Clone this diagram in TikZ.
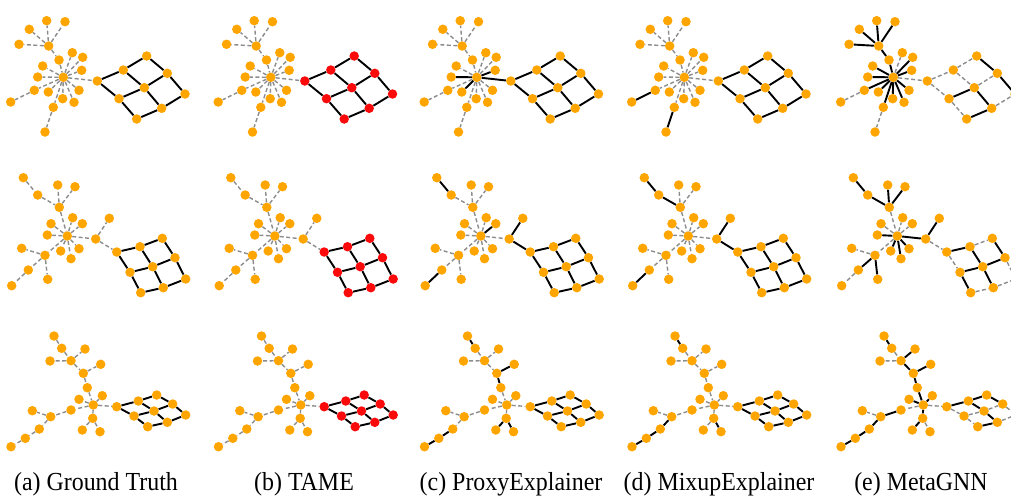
\documentclass[tikz,border=0pt]{standalone}
\usepackage{fontspec}
\setmainfont{Liberation Serif}

\definecolor{vorange}{RGB}{255,165,0}
\definecolor{vred}{RGB}{250,10,10}
\definecolor{egray}{RGB}{140,140,140}

\tikzset{
  vtx/.style={circle, fill=vorange, draw=none, minimum size=9.5pt, inner sep=0pt},
  motif/.style={fill=vred},
  tie/.style={draw=black, line width=1.9pt},
  faint/.style={draw=egray, line width=1.4pt, dash pattern=on 4pt off 2.5pt},
  caption/.style={font=\fontsize{26}{30}\selectfont, anchor=base, inner sep=0pt, xscale=0.92}
}

% one explanation panel: prefix, x offset, tree nodes, grid nodes,
% edges, edges drawn solid, extra style for the grid nodes
\makeatletter
\newcommand\explpanel[7]{%
  \begin{scope}[xshift=#2pt]
    \foreach \n/\x/\y in #3 {\node[vtx] (#1\n) at (\x,\y) {};}
    \foreach \n/\x/\y in #4 {\node[vtx,#7] (#1\n) at (\x,\y) {};}
    \foreach \u/\v in #5 {%
      \edef\pp@tmp{\noexpand\in@{,\u-\v,}{,#6,}}\pp@tmp
      \ifin@\draw[tie] (#1\u) -- (#1\v);\else\draw[faint] (#1\u) -- (#1\v);\fi
    }
  \end{scope}}
\makeatother

% 3x3 grid motif
\def\gridE{g00/g01,g01/g02,g10/g11,g11/g12,g20/g21,g21/g22,g00/g10,g10/g20,g01/g11,g11/g21,g02/g12,g12/g22}
\def\gridS{g00-g01,g01-g02,g10-g11,g11-g12,g20-g21,g21-g22,g00-g10,g10-g20,g01-g11,g11-g21,g02-g12,g12-g22}

% first graph
\def\rowAnodes{C/63.3/77.3,H/48.7/46,h1/46.7/20.7,h2/65/21.7,h3/29.3/29.3,h4/19/44.3,a1/59/60,a2/72.3/52.7,a3/82.7/57.3,a4/81.7/70.3,a5/42.7/66,a6/37.7/77,a7/34.3/90.3,b7/10.7/102,a8/48.3/92,a9/62.7/98.7,a10/74/102.3,a11/79/90.3,a12/53.3/107.3,b12/45/132}
\def\rowAgrid{g00/97.3/81,g01/123.3/70,g02/146.7/56,g10/119/98.7,g11/144.3/87.7,g12/167.3/73.3,g20/136.7/119,g21/161.7/108.3,g22/185/94}
\edef\rowAedges{H/h1,H/h2,H/h3,H/h4,H/a1,a1/C,C/a2,C/a3,C/a4,C/a5,C/a6,C/a7,C/a8,C/a9,C/a10,C/a11,C/a12,a7/b7,a12/b12,C/g00,\gridE}

% second graph
\def\rowBnodes{C/67.3/236,H/59.3/207.3,n1/23.3/177.7,n2/37.7/195,n3/57.7/185,n4/75/186.7,c1/51/223.7,c2/72.7/217.7,c3/82.3/223.7,c4/47.3/235,c5/60.7/251,c6/71/258.7,c7/79/248.7,L/45/255.3,l1/21.7/248.3,l2/47.7/279.3,l3/28.3/270,l4/11.7/285.7,R/95.7/239,r1/109.3/218.3}
\def\rowBgrid{g00/116.7/252,g01/140/246.7,g02/162.3/238.3,g10/130/272.3,g11/152.7/266.7,g12/175/257.7,g20/140.7/292.7,g21/163.3/287.7,g22/185.7/279}
\edef\rowBedges{n1/n2,n2/H,H/n3,H/n4,H/C,C/c1,C/c2,C/c3,C/c4,C/c5,C/c6,C/c7,C/L,L/l1,L/l2,L/l3,l3/l4,C/R,R/r1,R/g00,\gridE}

% third graph
\def\rowCnodes{C/93.3/405,t1/54/336,t2/61.7/348.3,T/71/360.7,t3/85/349,t4/50/361,U/83.3/373.3,u1/100.7/364.3,V/87.3/387.7,c1/79/399.3,c2/102.3/395.7,D/92.7/418.3,d1/82.3/430,d2/100/431.7,E/71/410,F/50.7/416.7,f1/32.3/410.7,f2/39.3/429,f3/25.3/438.3,f4/11/446.7}
\def\rowCgrid{g00/116.7/406.7,g01/138.3/401,g02/156.7/395,g10/134/416,g11/154/411,g12/172.7/404,g20/147.7/426.7,g21/167.3/422.3,g22/185.7/415}
\edef\rowCedges{t1/t2,t2/T,T/t3,T/t4,T/U,U/u1,U/V,V/C,C/c1,C/c2,C/D,D/d1,D/d2,C/E,E/F,F/f1,F/f2,f2/f3,f3/f4,C/g00,\gridE}

\begin{document}
\begin{tikzpicture}[x=1pt,y=-1pt]
\useasboundingbox (0,0) rectangle (1011,498);

% row 1
\explpanel{p1a}{0}{\rowAnodes}{\rowAgrid}{\rowAedges}{\gridS}{}
\explpanel{p1b}{207.5}{\rowAnodes}{\rowAgrid}{\rowAedges}{\gridS}{motif}
\explpanel{p1c}{413.5}{\rowAnodes}{\rowAgrid}{\rowAedges}{\gridS,C-a6,C-a4,C-a8,C-g00}{}
\explpanel{p1d}{621}{\rowAnodes}{\rowAgrid}{\rowAedges}{\gridS,a7-b7,a12-b12}{}
\explpanel{p1e}{830}{\rowAnodes}{\rowAgrid}{\rowAedges}{H-h1,H-h2,H-h3,H-h4,H-a1,a1-C,C-a3,C-a4,C-a5,C-a6,C-a7,C-a8,C-a9,C-a10,C-a11,C-a12,g02-g12,g12-g22,g10-g11,g11-g21,g20-g21}{}

% row 2
\explpanel{p2a}{0}{\rowBnodes}{\rowBgrid}{\rowBedges}{\gridS}{}
\explpanel{p2b}{207.5}{\rowBnodes}{\rowBgrid}{\rowBedges}{\gridS}{motif}
\explpanel{p2c}{413.5}{\rowBnodes}{\rowBgrid}{\rowBedges}{\gridS,n1-n2,C-c3,R-r1,R-g00,l3-l4}{}
\explpanel{p2d}{621}{\rowBnodes}{\rowBgrid}{\rowBedges}{\gridS,n1-n2,n2-H,l3-l4,R-r1,R-g00}{}
\explpanel{p2e}{830}{\rowBnodes}{\rowBgrid}{\rowBedges}{n1-n2,n2-H,H-n3,H-n4,C-c4,C-c5,C-c6,C-c7,L-l2,L-l3,C-R,R-r1,g00-g01,g02-g12,g01-g11,g10-g11,g11-g12,g11-g21,g10-g20}{}

% row 3
\explpanel{p3a}{0}{\rowCnodes}{\rowCgrid}{\rowCedges}{\gridS}{}
\explpanel{p3b}{207.5}{\rowCnodes}{\rowCgrid}{\rowCedges}{\gridS}{motif}
\explpanel{p3c}{413.5}{\rowCnodes}{\rowCgrid}{\rowCedges}{\gridS,t1-t2,U-u1,U-V,D-d1,D-d2,f2-f3,f3-f4}{}
\explpanel{p3d}{621}{\rowCnodes}{\rowCgrid}{\rowCedges}{\gridS,t1-t2,F-f2,f2-f3,f3-f4,D-d2}{}
\explpanel{p3e}{830}{\rowCnodes}{\rowCgrid}{\rowCedges}{t1-t2,T-t3,T-U,U-u1,U-V,V-C,C-c1,C-c2,C-D,D-d1,E-F,F-f2,f2-f3,f3-f4,g00-g01,g01-g02,g02-g12,g01-g11,g11-g21,g20-g21}{}

% captions
\node[caption] (cap-a) at (96,490) {(a) Ground Truth};
\node[caption] (cap-b) at (304,490) {(b) TAME};
\node[caption] (cap-c) at (511,490) {(c) ProxyExplainer};
\node[caption] (cap-d) at (719,490) {(d) MixupExplainer};
\node[caption] (cap-e) at (921,490) {(e) MetaGNN};
\end{tikzpicture}
\end{document}
